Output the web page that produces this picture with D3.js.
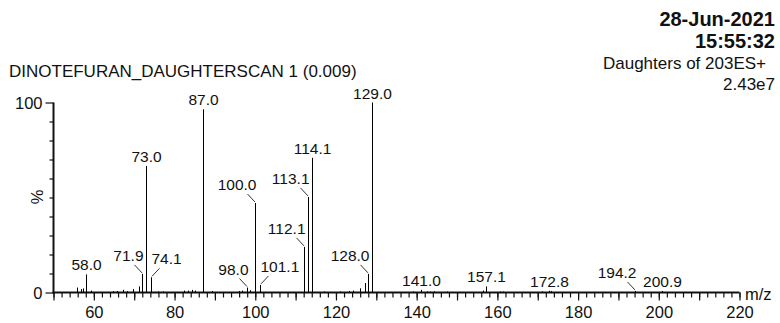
<!DOCTYPE html>
<html>
<head>
<meta charset="utf-8">
<script src="https://cdn.jsdelivr.net/npm/d3@7"></script>
<style>
  html, body { margin: 0; padding: 0; background: #fff; }
  svg { display: block; }
  text { font-family: "Liberation Sans", Arial, sans-serif; fill: #111; }
</style>
</head>
<body>
<svg id="chart" width="780" height="323"></svg>
<script>
// Labelled peaks (m/z, relative intensity %)
const peakMz        = [58.0, 71.9, 73.0, 74.1, 87.0, 98.0, 100.0, 101.1, 112.1, 113.1, 114.1, 128.0, 129.0, 141.0, 157.1, 172.8, 194.2, 200.9];
const peakIntensity = [9.5,  9.8,  66.6, 8.0,  96.4, 2.6,  47.1,  4.0,   24.0,  50.3,  70.9,  9.8,   100,   1.4,   3.2,   0.9,   0.8,   0.8];

// Unlabelled minor peaks
const minorMz        = [55.9, 56.9, 57.4, 59.2, 64.8, 65.7, 67.3, 68.2, 69.6, 71.1, 75.8, 77.2, 82.3, 83.3, 84.2, 85.0, 89.3, 95.9, 96.8, 98.7, 117.1, 121.0, 123.3, 124.3, 126.0, 127.1, 139.2, 142.5, 143.3, 144.2, 147.5, 156.4, 160.7, 161.4, 171.0, 173.4];
const minorIntensity = [2.6,  1.8,  2.1,  1.0,  0.7,  0.8,  1.4,  0.7,  1.8,  3.2,  0.6,  0.6,  1.0,  1.0,  1.4,  1.0,  0.8,  0.8,  1.0,  1.2,  0.5,   0.5,   0.8,   1.0,   2.2,   5.0,   0.6,   0.6,   0.5,   0.6,   0.5,   1.0,   0.5,   0.5,   0.6,   0.8];

// Axis tick labels
const xTickLabels = [60, 80, 100, 120, 140, 160, 180, 200, 220];
const yTickLabels = [0, 100];

// Header texts
const titleText = "DINOTEFURAN_DAUGHTERSCAN 1 (0.009)";
const dateText = "28-Jun-2021";
const timeText = "15:55:32";
const scanText = "Daughters of 203ES+";
const maxIntensityText = "2.43e7";

// Which side each peak label sits on: centred above, or offset left/right with a leader
const calloutSide = {"71.9": "l", "74.1": "r", "98.0": "l", "100.0": "l", "101.1": "r",
                     "112.1": "l", "113.1": "l", "128.0": "l", "194.2": "l"};

const svg = d3.select("#chart");

const x = d3.scaleLinear().domain([50, 220]).range([53.5, 739.5]);
const y = d3.scaleLinear().domain([0, 100]).range([292.5, 102.5]);

// Header
svg.append("text").attr("x", 775).attr("y", 26).attr("text-anchor", "end")
  .style("font-weight", "bold").style("font-size", "20px").text(dateText);
svg.append("text").attr("x", 775).attr("y", 48).attr("text-anchor", "end")
  .style("font-weight", "bold").style("font-size", "20px").text(timeText);
svg.append("text").attr("x", 766).attr("y", 69).attr("text-anchor", "end")
  .style("font-size", "17px").text(scanText);
svg.append("text").attr("x", 775).attr("y", 90).attr("text-anchor", "end")
  .style("font-size", "17px").text(maxIntensityText);
svg.append("text").attr("x", 9).attr("y", 77)
  .style("font-size", "17px").text(titleText);

// X axis: minor ticks every 2, major every 10, labels every 20
const xMinor = d3.axisBottom(x).tickValues(d3.range(50, 221, 2)).tickSize(5).tickFormat("");
const xMajor = d3.axisBottom(x).tickValues(d3.range(50, 221, 10)).tickSize(8)
  .tickFormat(d => xTickLabels.includes(d) ? d : "");
const gxMinor = svg.append("g").attr("transform", `translate(0,${y(0)})`).call(xMinor);
const gxMajor = svg.append("g").attr("transform", `translate(0,${y(0)})`).call(xMajor);
[gxMinor, gxMajor].forEach(g => {
  g.select(".domain").remove();
  g.selectAll(".tick line").attr("stroke", "#111").attr("stroke-width", 1.2);
});
gxMajor.selectAll(".tick text").attr("dy", 0).attr("y", 25)
  .style("font-size", "16.5px").style("font-family", "Liberation Sans, Arial, sans-serif").attr("fill", "#111");
svg.append("line").attr("x1", x(50) - 1).attr("x2", x(220)).attr("y1", y(0)).attr("y2", y(0))
  .attr("stroke", "#111").attr("stroke-width", 2);
svg.append("text").attr("x", 745).attr("y", 300).style("font-size", "16.5px").text("m/z");

// Y axis: ticks every 10 %, labels at 0 and 100
const yAxis = d3.axisLeft(y).tickValues(d3.range(0, 101, 10))
  .tickSize(4).tickFormat(d => yTickLabels.includes(d) ? d : "");
const gy = svg.append("g").attr("transform", `translate(${x(50)},0)`).call(yAxis);
gy.select(".domain").remove();
gy.selectAll(".tick line").attr("stroke", "#111").attr("stroke-width", 1.2)
  .attr("x2", d => yTickLabels.includes(d) ? -8 : -4);
gy.selectAll(".tick text").attr("x", -11).attr("dy", "0.36em")
  .style("font-size", "16.5px").style("font-family", "Liberation Sans, Arial, sans-serif").attr("fill", "#111");
svg.append("line").attr("x1", x(50)).attr("x2", x(50)).attr("y1", y(100)).attr("y2", y(0) + 1)
  .attr("stroke", "#111").attr("stroke-width", 2);
svg.append("text").attr("transform", `translate(43,197) rotate(-90)`).attr("text-anchor", "middle")
  .style("font-size", "16.5px").text("%");

// Sticks
const px = v => Math.round(x(v)) + 0.5;
const minor = minorMz.map((m, i) => ({mz: m, v: minorIntensity[i]}));
const peaks = peakMz.map((m, i) => ({mz: m, v: peakIntensity[i], label: m.toFixed(1)}));

svg.append("g").selectAll("line").data(minor.concat(peaks)).join("line")
  .attr("x1", d => px(d.mz)).attr("x2", d => px(d.mz))
  .attr("y1", y(0)).attr("y2", d => y(d.v))
  .attr("stroke", "#000").attr("stroke-width", 1);

// Peak labels and leaders
const gl = svg.append("g");
peaks.forEach(d => {
  const cx = px(d.mz), top = y(d.v);
  const side = calloutSide[d.label] || "c";
  if (side === "c") {
    gl.append("text").attr("x", cx).attr("y", top - 4).attr("text-anchor", "middle")
      .style("font-size", "15.5px").text(d.label);
  } else if (side === "l") {
    gl.append("line").attr("x1", cx - 0.5).attr("y1", top - 1).attr("x2", cx - 8).attr("y2", top - 9)
      .attr("stroke", "#333").attr("stroke-width", 1);
    gl.append("text").attr("x", cx + 1).attr("y", top - 13).attr("text-anchor", "end")
      .style("font-size", "15.5px").text(d.label);
  } else {
    gl.append("line").attr("x1", cx + 0.5).attr("y1", top - 1).attr("x2", cx + 8).attr("y2", top - 9)
      .attr("stroke", "#333").attr("stroke-width", 1);
    gl.append("text").attr("x", cx).attr("y", top - 13).attr("text-anchor", "start")
      .style("font-size", "15.5px").text(d.label);
  }
});
</script>
</body>
</html>
